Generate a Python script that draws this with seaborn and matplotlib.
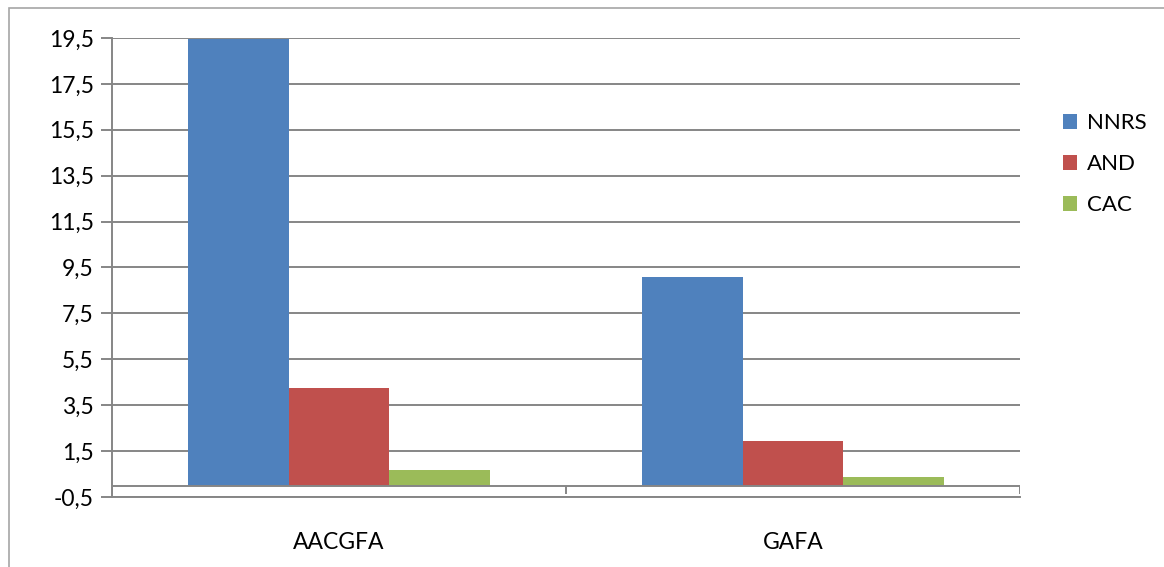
import pandas as pd
import seaborn as sns
import matplotlib.pyplot as plt
from matplotlib.patches import Rectangle

# dados
grupos = ['AACGFA', 'GAFA']
series = ['NNRS', 'AND', 'CAC']
nnrs = [19.45, 9.1]
and_vals = [4.23, 1.93]
cac = [0.67, 0.37]
cores = ['#4F81BD', '#C0504D', '#9BBB59']
yticks = [-0.5, 1.5, 3.5, 5.5, 7.5, 9.5, 11.5, 13.5, 15.5, 17.5, 19.5]

df = pd.DataFrame({
    'grupo': grupos * 3,
    'serie': [s for s in series for _ in grupos],
    'valor': nnrs + and_vals + cac,
})

sns.set_style('white')
plt.rcParams['font.family'] = ['Lato', 'DejaVu Sans']
plt.rcParams['text.color'] = 'black'
cinza = '#868686'

fig = plt.figure(figsize=(11.64, 5.67), dpi=100)
ax = fig.add_axes([112 / 1164, 1 - 497 / 567, 908 / 1164, 459 / 567])

# moldura externa do gráfico
fig.patches.append(Rectangle((9 / 1164, -0.1), 1.2, 1.1 - 8 / 567, transform=fig.transFigure,
                             fill=False, edgecolor='#a6a6a6', linewidth=1.2))

sns.barplot(data=df, x='grupo', y='valor', hue='serie', hue_order=series, palette=cores,
            width=0.667, saturation=1, linewidth=0, ax=ax, zorder=3)

ax.set_ylim(-0.5, 19.5)
ax.set_xlim(-0.5, 1.5)
ax.set_yticks(yticks)
ax.set_yticklabels([f'{v:.1f}'.replace('.', ',') for v in yticks])
for v in yticks:
    ax.axhline(v, color=cinza, linewidth=1.4, zorder=1)
ax.axhline(0, color=cinza, linewidth=1.4, zorder=4)
ax.vlines([-0.5, 0.5, 1.5], -0.35, 0, color=cinza, linewidth=1.4, zorder=4)

for lado in ['top', 'right']:
    ax.spines[lado].set_visible(False)
ax.spines['left'].set_color(cinza)
ax.spines['left'].set_linewidth(1.4)
ax.spines['bottom'].set_color(cinza)
ax.spines['bottom'].set_linewidth(1.4)
ax.tick_params(axis='y', left=True, length=8, width=1.4, color=cinza, labelsize=16.5,
               labelcolor='black', pad=5)
ax.tick_params(axis='x', bottom=False, labelsize=16.5, labelcolor='black', pad=22)
ax.set_xlabel('')
ax.set_ylabel('')

ax.legend(frameon=False, loc='center left', bbox_to_anchor=(1.025, 0.725), fontsize=16,
          handlelength=0.65, handleheight=0.65, labelspacing=0.95, handletextpad=0.45)

fig.savefig('out.png', dpi=100)
